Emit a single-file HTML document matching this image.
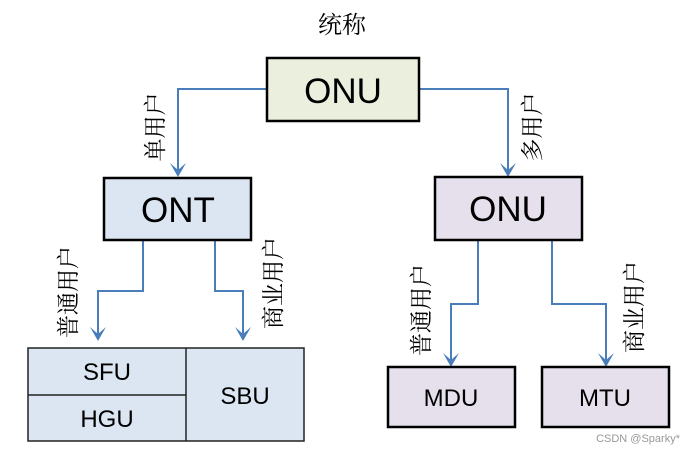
<!DOCTYPE html>
<html><head><meta charset="utf-8"><style>
html,body{margin:0;padding:0;background:#fff;}
svg{display:block;}
text{font-family:"Liberation Sans","Noto Sans CJK SC",sans-serif;}
.cjk{font-family:"Noto Serif CJK SC","Noto Sans CJK SC",serif;font-size:23px;fill:#000;}
</style></head><body>
<svg width="695" height="454" viewBox="0 0 695 454" xmlns="http://www.w3.org/2000/svg">
<defs>
<marker id="a" viewBox="0 0 10 10" refX="5" refY="9" markerWidth="14" markerHeight="14" markerUnits="userSpaceOnUse" orient="auto-start-reverse">
<path d="M0,0 L5,4 L10,0 L5,10 Z" fill="#4a7ebb" transform="rotate(0)"/>
</marker>
</defs>
<text x="342" y="33" text-anchor="middle" class="cjk" style="font-size:24px">统称</text>

<g fill="none" stroke="#4a7ebb" stroke-width="2">
<polyline points="267,89 178,89 178,174"/>
<polyline points="419,89 508,89 508,174"/>
<polyline points="143,240 143,291 98,291 98,338"/>
<polyline points="215,240 215,291 243,291 243,338"/>
<polyline points="478,240 478,304 451,304 451,364"/>
<polyline points="552,240 552,304 606,304 606,364"/>
</g>
<g fill="#4a7ebb">
<path d="M170,163 L178,170 L186,163 L178,177 Z"/>
<path d="M500,163 L508,170 L516,163 L508,177 Z"/>
<path d="M90,327 L98,334 L106,327 L98,341 Z"/>
<path d="M235,327 L243,334 L251,327 L243,341 Z"/>
<path d="M443,353 L451,360 L459,353 L451,367 Z"/>
<path d="M598,353 L606,360 L614,353 L606,367 Z"/>
</g>

<g stroke="#000" stroke-width="2.5">
<rect x="267" y="58" width="152" height="63" fill="#ebf0de"/>
<rect x="104" y="178" width="147" height="62" fill="#dce6f2"/>
<rect x="435" y="177" width="147" height="63" fill="#e5e0ec"/>
<rect x="388" y="367" width="127" height="60" fill="#e5e0ec"/>
<rect x="542" y="367" width="127" height="60" fill="#e5e0ec"/>
</g>
<g stroke="#222" stroke-width="1.5">
<rect x="28" y="348" width="276" height="93" fill="#dce6f2"/>
<line x1="186" y1="348" x2="186" y2="441"/>
<line x1="28" y1="395" x2="186" y2="395"/>
</g>

<g font-size="35" text-anchor="middle" fill="#000">
<text x="343" y="103">ONU</text>
<text x="178" y="222">ONT</text>
<text x="508" y="221">ONU</text>
</g>
<g font-size="24" text-anchor="middle" fill="#000">
<text x="451" y="406">MDU</text>
<text x="605" y="406">MTU</text>
<text x="107" y="380">SFU</text>
<text x="107" y="427">HGU</text>
<text x="245" y="404">SBU</text>
</g>

<text class="cjk" text-anchor="middle" transform="translate(163,127) rotate(-90)">单用户</text>
<text class="cjk" text-anchor="middle" transform="translate(540,127) rotate(-90)">多用户</text>
<text class="cjk" text-anchor="middle" transform="translate(76,292) rotate(-90)">普通用户</text>
<text class="cjk" text-anchor="middle" transform="translate(281,283) rotate(-90)">商业用户</text>
<text class="cjk" text-anchor="middle" transform="translate(429,310) rotate(-90)">普通用户</text>
<text class="cjk" text-anchor="middle" transform="translate(642,307) rotate(-90)">商业用户</text>

<text x="680" y="442" text-anchor="end" font-size="11" fill="#999">CSDN @Sparky*</text>
</svg>
</body></html>
